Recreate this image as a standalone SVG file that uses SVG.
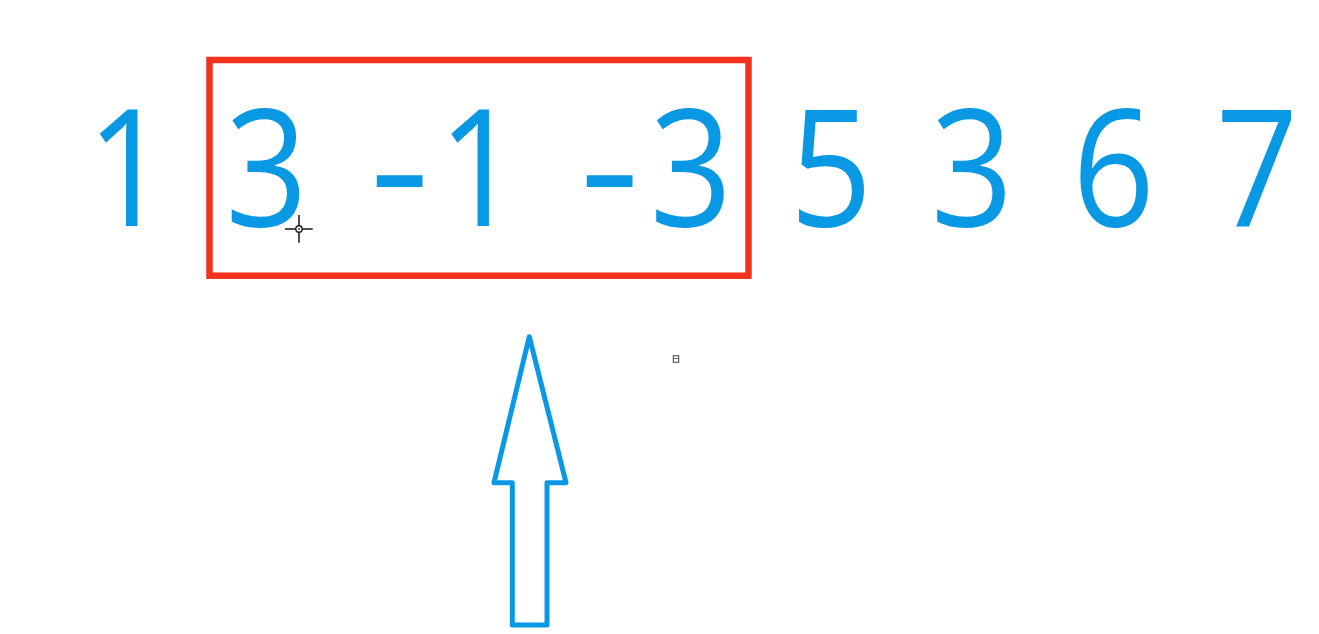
<svg xmlns="http://www.w3.org/2000/svg" width="1319" height="634" viewBox="0 0 1319 634">
  <style>
    .num { font-family: "Open Sans", "Noto Sans", "Liberation Sans", sans-serif; font-size: 164px; fill: #0898E4; text-anchor: middle; }
    .box { fill: none; stroke: #F2321F; stroke-width: 6.5; }
    .arrow { fill: #FFFFFF; stroke: #0898E4; stroke-width: 5; stroke-linejoin: round; }
    .cursor { stroke: #222222; stroke-width: 1.6; fill: none; }
  </style>
  <rect x="0" y="0" width="1319" height="634" fill="#FFFFFF"/>
  <g id="window">
    <rect class="box" x="209.5" y="60" width="539" height="215.7"/>
  </g>
  <g id="numbers">
    <g transform="scale(0.88,1)">
      <text class="num" x="145.5" y="226.5">1</text>
      <text class="num" x="302.8" y="226.5">3</text>
      <text class="num" x="545" y="226.5">1</text>
      <text class="num" x="785.2" y="226.5">3</text>
      <text class="num" x="944.3" y="226.5">5</text>
      <text class="num" x="1104.5" y="226.5">3</text>
      <text class="num" x="1265.3" y="226.5">6</text>
      <text class="num" x="1428.4" y="226.5">7</text>
    </g>
    <text class="num" transform="translate(399.5,0) scale(1.15,1)" x="0" y="225">-</text>
    <text class="num" transform="translate(609.5,0) scale(1.15,1)" x="0" y="225">-</text>
  </g>
  <g id="connectors">
    <polygon class="arrow" points="529.3,336.7 566,482.7 547,482.7 547,625 512.3,625 512.3,482.7 494,482.7"/>
  </g>
  <g id="cursor">
    <line class="cursor" x1="285" y1="229" x2="312.7" y2="229"/>
    <line class="cursor" x1="299" y1="215" x2="299" y2="242.7"/>
    <circle cx="299" cy="229" r="3.2" fill="#FFFFFF" stroke="#222222" stroke-width="1.4"/>
    <circle cx="299" cy="229" r="0.9" fill="#222222"/>
  </g>
  <g id="icon">
    <rect x="673.3" y="355.7" width="5.4" height="6.6" fill="#FFFFFF" stroke="#555555" stroke-width="1.1"/>
    <line x1="673.3" y1="358.5" x2="678.7" y2="358.5" stroke="#555555" stroke-width="0.9"/>
  </g>
</svg>
